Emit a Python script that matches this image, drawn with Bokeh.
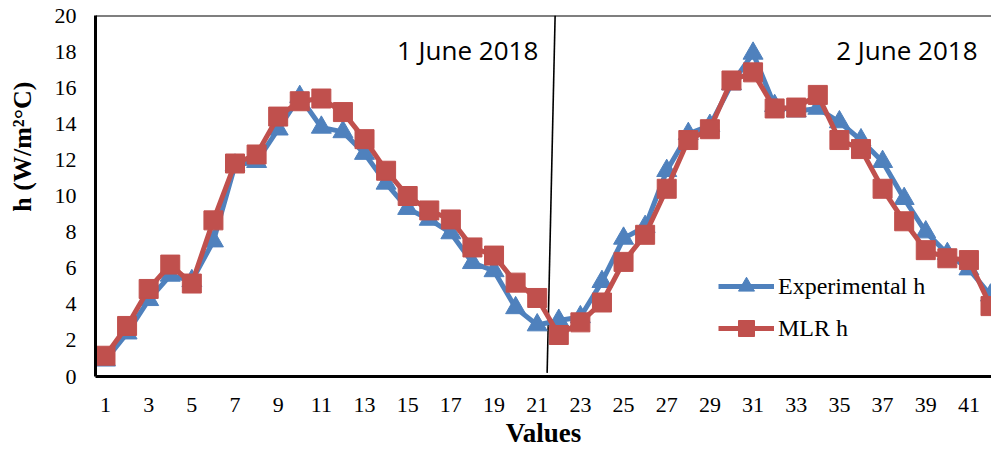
import math
from bokeh.plotting import figure
from bokeh.models import (Range1d, FixedTicker, Span, Label, Legend, LegendItem,
                          ColumnDataSource, Title)
from bokeh.embed import file_html
from bokeh.resources import INLINE

# ---------------- data ----------------
hours = list(range(1, 43))
experimental_h = [0.9, 2.4, 4.25, 5.6, 5.3, 7.5, 11.7, 11.9, 13.7, 15.5,
                  13.8, 13.55, 12.35, 10.7, 9.3, 8.7, 7.95, 6.3, 5.85, 3.8,
                  2.85, 3.1, 3.3, 5.25, 7.65, 8.3, 11.4, 13.45, 13.9, 16.2,
                  17.9, 15.0, 14.7, 14.85, 14.1, 13.1, 11.9, 9.85, 8.0, 6.8,
                  5.95, 4.5]
mlr_h = [1.15, 2.8, 4.85, 6.2, 5.15, 8.65, 11.8, 12.3, 14.4, 15.25,
         15.4, 14.65, 13.15, 11.4, 10.0, 9.2, 8.7, 7.15, 6.7, 5.2,
         4.35, 2.3, 3.0, 4.1, 6.35, 7.85, 10.4, 13.1, 13.7, 16.4,
         16.85, 14.85, 14.9, 15.6, 13.1, 12.6, 10.4, 8.6, 7.0, 6.55,
         6.45, 3.9]
x_ticks = list(range(1, 42, 2))
y_ticks = list(range(0, 21, 2))
series_names = ["Experimental h", "MLR h"]
y_title = "h (W/m\u00b2\u00b0C)"
x_title = "Values"
day_labels = ["1 June 2018", "2 June 2018"]
day_label_x = [21.05, 41.4]
day_label_y = [18.1, 18.1]
separator_x = [21.83, 21.46]
separator_y = [20.0, 0.2]

BLUE = "#4F81BD"
RED = "#C0504D"
SERIF = "Liberation Serif"

p = figure(width=991, height=450, output_backend="svg", toolbar_location=None,
           x_range=Range1d(0.537, 42.046), y_range=Range1d(0, 20),
           min_border_left=94, min_border_right=0, min_border_top=15,
           min_border_bottom=73)
p.outline_line_color = None
p.background_fill_color = "white"
p.border_fill_color = "white"
p.grid.visible = False

# axes
xa = p.xaxis[0]
xa.ticker = FixedTicker(ticks=x_ticks)
xa.axis_line_width = 3
xa.axis_line_color = "black"
xa.major_tick_out = 0
xa.major_tick_in = 0
xa.minor_tick_out = 0
xa.minor_tick_in = 0
xa.major_label_standoff = 21
xa.major_label_text_font = SERIF
xa.major_label_text_font_size = "22px"
xa.major_label_text_color = "black"
xa.axis_label = x_title
xa.axis_label_text_font = SERIF
xa.axis_label_text_font_style = "bold"
xa.axis_label_text_font_size = "27px"
xa.axis_label_text_color = "black"
xa.axis_label_standoff = 3

ya = p.yaxis[0]
ya.ticker = FixedTicker(ticks=y_ticks)
ya.axis_line_width = 3
ya.axis_line_color = "black"
ya.major_tick_out = 0
ya.major_tick_in = 0
ya.minor_tick_out = 0
ya.minor_tick_in = 0
ya.major_label_standoff = 19
ya.major_label_text_font = SERIF
ya.major_label_text_font_size = "22px"
ya.major_label_text_color = "black"
# invisible spacer label to push the title a little further left
ya.axis_label = " "
ya.axis_label_text_font_size = "2px"
ya.axis_label_standoff = 5

# y axis title (placed toward the top like the reference)
p.add_layout(Title(text=y_title, align="right", offset=66,
                   text_font=SERIF, text_font_style="bold", text_font_size="26px",
                   text_color="black"), "left")

# top border of plot area
p.add_layout(Span(location=20, dimension="width", line_color="black", line_width=2))

# day separator
p.segment(x0=[separator_x[0]], y0=[separator_y[0]], x1=[separator_x[1]], y1=[separator_y[1]],
          line_color="black", line_width=1.6)

src = ColumnDataSource(dict(x=hours, exp=experimental_h, mlr=mlr_h))

bl = p.line("x", "exp", source=src, line_color=BLUE, line_width=5, line_join="round")
bs = p.scatter("x", "exp", source=src, marker="triangle", size=20,
               fill_color=BLUE, line_color=BLUE)
rl = p.line("x", "mlr", source=src, line_color=RED, line_width=5, line_join="round")
rs = p.scatter("x", "mlr", source=src, marker="square", size=19,
               fill_color=RED, line_color=RED)

for t, x, y in zip(day_labels, day_label_x, day_label_y):
    p.add_layout(Label(x=x, y=y, text=t, text_align="right", text_baseline="alphabetic",
                       text_font="Open Sans", text_font_size="26px", text_color="black"))

legend = Legend(items=[LegendItem(label=series_names[0], renderers=[bl, bs]),
                       LegendItem(label=series_names[1], renderers=[rl, rs])],
                location=(623, 28), orientation="vertical",
                glyph_width=56, glyph_height=40, label_height=40, spacing=2,
                label_standoff=4, padding=0, margin=0,
                border_line_color=None, background_fill_alpha=0,
                label_text_font=SERIF, label_text_font_size="24px",
                label_text_color="black")
p.add_layout(legend, "center")

open("out.html", "w").write(file_html(p, INLINE))
